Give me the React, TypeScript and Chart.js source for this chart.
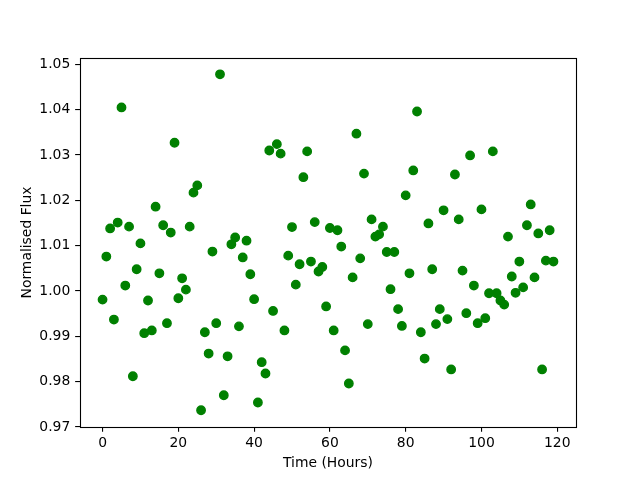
import React, { useEffect, useRef } from "react";
import { Chart, registerables } from "chart.js";

Chart.register(...registerables);

const hours: number[] = [
  0, 1, 2, 3, 4, 5, 6, 7, 8, 9, 10, 11, 12, 13, 14, 15, 16, 17, 18, 19,
  20, 21, 22, 23, 24, 25, 26, 27, 28, 29, 30, 31, 32, 33, 34, 35, 36, 37, 38, 39,
  40, 41, 42, 43, 44, 45, 46, 47, 48, 49, 50, 51, 52, 53, 54, 55, 56, 57, 58, 59,
  60, 61, 62, 63, 64, 65, 66, 67, 68, 69, 70, 71, 72, 73, 74, 75, 76, 77, 78, 79,
  80, 81, 82, 83, 84, 85, 86, 87, 88, 89, 90, 91, 92, 93, 94, 95, 96, 97, 98, 99,
  100, 101, 102, 103, 104, 105, 106, 107, 108, 109, 110, 111, 112, 113, 114, 115, 116, 117, 118, 119,
];

const flux: number[] = [
  0.9981, 1.0076, 1.0138, 0.9937, 1.0151, 1.0405, 1.0012, 1.0142, 0.9812, 1.0048,
  1.0105, 0.9907, 0.9979, 0.9913, 1.0186, 1.0039, 1.0145, 0.9929, 1.0129, 1.0327,
  0.9984, 1.0028, 1.0003, 1.0142, 1.0217, 1.0233, 0.9737, 0.9909, 0.9862, 1.0087,
  0.9929, 1.0478, 0.9770, 0.9856, 1.0103, 1.0118, 0.9922, 1.0074, 1.0111, 1.0037,
  0.9982, 0.9754, 0.9843, 0.9818, 1.0310, 0.9956, 1.0324, 1.0303, 0.9913, 1.0078,
  1.0141, 1.0014, 1.0059, 1.0251, 1.0308, 1.0065, 1.0152, 1.0043, 1.0053, 0.9966,
  1.0139, 0.9913, 1.0134, 1.0098, 0.9869, 0.9796, 1.0030, 1.0347, 1.0072, 1.0259,
  0.9927, 1.0158, 1.0120, 1.0125, 1.0142, 1.0086, 1.0004, 1.0086, 0.9960, 0.9923,
  1.0211, 1.0039, 1.0266, 1.0396, 0.9909, 0.9851, 1.0149, 1.0048, 0.9927, 0.9960,
  1.0178, 0.9938, 0.9827, 1.0257, 1.0158, 1.0045, 0.9951, 1.0299, 1.0012, 0.9929,
  1.0180, 0.9940, 0.9995, 1.0308, 0.9995, 0.9979, 0.9970, 1.0120, 1.0032, 0.9996,
  1.0065, 1.0008, 1.0145, 1.0191, 1.0030, 1.0127, 0.9827, 1.0067, 1.0134, 1.0065,
];

const xTicks: number[] = [0, 20, 40, 60, 80, 100, 120];
const yTicks: number[] = [0.97, 0.98, 0.99, 1.0, 1.01, 1.02, 1.03, 1.04, 1.05];

const xLabel = "Time (Hours)";
const yLabel = "Normalised Flux";

const FONT = "DejaVu Sans";
const FS = 13.9;
const TICK_LEN = 4.86;

const framePlugin = {
  id: "frame",
  afterDatasetsDraw(chart: any) {
    const { ctx, chartArea } = chart;
    ctx.save();
    ctx.strokeStyle = "#000";
    ctx.lineWidth = 1.1;
    ctx.strokeRect(
      Math.round(chartArea.left) + 0.5,
      Math.round(chartArea.top) + 0.5,
      Math.round(chartArea.right - chartArea.left),
      Math.round(chartArea.bottom - chartArea.top)
    );
    ctx.restore();
  },
};

export default function App() {
  const ref = useRef<HTMLCanvasElement | null>(null);

  useEffect(() => {
    if (!ref.current) return;
    const points = hours.map((h, i) => ({ x: h, y: flux[i] }));
    const chart = new Chart(ref.current, {
      type: "scatter",
      data: {
        datasets: [
          {
            data: points,
            backgroundColor: "#008000",
            borderColor: "#008000",
            pointRadius: 4.2,
            pointBorderWidth: 1.4,
            pointHoverRadius: 4.2,
          },
        ],
      },
      options: {
        responsive: false,
        animation: false,
        events: [],
        layout: { padding: { left: 0, top: 58, right: 64, bottom: 0 } },
        plugins: {
          legend: { display: false },
          tooltip: { enabled: false },
        },
        scales: {
          x: {
            type: "linear",
            min: -5.95,
            max: 124.95,
            afterBuildTicks: (scale: any) => {
              scale.ticks = xTicks.map((v) => ({ value: v }));
            },
            afterFit: (scale: any) => {
              scale.height = 53;
            },
            border: { display: false },
            grid: {
              display: true,
              drawOnChartArea: false,
              drawTicks: true,
              tickLength: TICK_LEN,
              color: "#000",
              lineWidth: 1.1,
            },
            ticks: {
              color: "#000",
              font: { family: FONT, size: FS },
              padding: 3,
              maxRotation: 0,
              autoSkip: false,
              callback: (v: any) => String(v),
            },
            title: {
              display: true,
              text: xLabel,
              color: "#000",
              font: { family: FONT, size: FS },
              padding: { top: 0, bottom: 8.5 },
            },
          },
          y: {
            type: "linear",
            min: 0.97,
            max: 1.0514,
            afterBuildTicks: (scale: any) => {
              scale.ticks = yTicks.map((v) => ({ value: v }));
            },
            afterFit: (scale: any) => {
              scale.width = 80;
            },
            border: { display: false },
            grid: {
              display: true,
              drawOnChartArea: false,
              drawTicks: true,
              tickLength: TICK_LEN,
              color: "#000",
              lineWidth: 1.1,
            },
            ticks: {
              color: "#000",
              font: { family: FONT, size: FS },
              padding: 4.86,
              autoSkip: false,
              callback: (v: any) => Number(v).toFixed(2),
            },
            title: {
              display: true,
              text: yLabel,
              color: "#000",
              font: { family: FONT, size: FS },
              padding: { top: 19.5, bottom: 0 },
            },
          },
        },
      },
      plugins: [framePlugin],
    });
    return () => chart.destroy();
  }, []);

  return (
    <div style={{ position: "absolute", left: 0, top: 0, width: 640, height: 480, background: "#fff" }}>
      <canvas ref={ref} width={640} height={480} style={{ display: "block" }} />
    </div>
  );
}
